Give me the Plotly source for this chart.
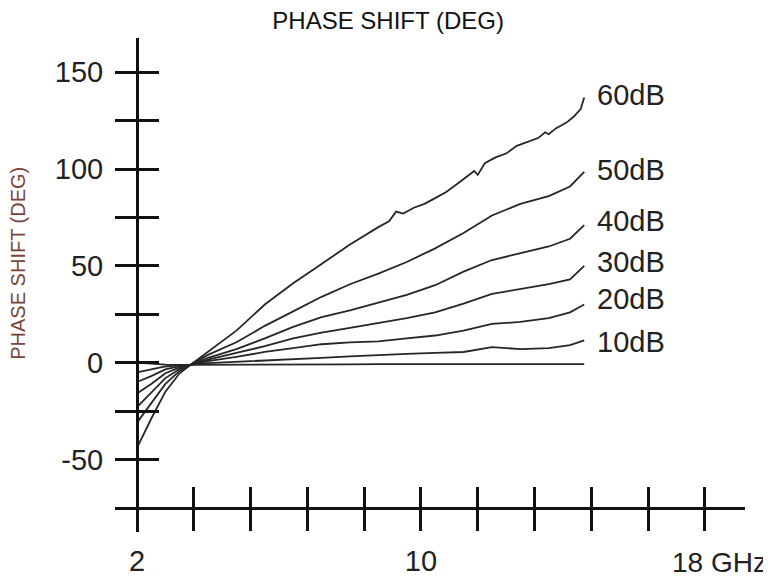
import plotly.graph_objects as go

# ---- data ----
freq = [2, 2.4, 2.8, 3.2, 3.5, 4.0, 4.8, 5.6, 6.4, 7.2, 8.0, 8.8, 9.6, 10.4, 11.2, 12.0, 12.8, 13.6, 14.2, 14.6]

phase_0db = [0, -0.6, -1.0, -1.2, -1.2, -1.1, -1.0, -1.0, -0.9, -0.9, -0.9, -0.8, -0.8, -0.8, -0.8, -0.8, -0.8, -0.8, -0.8, -0.8]
phase_10db = [-5, -3.5, -2, -1.3, -1.2, -0.3, 0.5, 1.2, 1.8, 2.5, 3.2, 4, 4.5, 5, 5.5, 8, 7, 7.5, 9, 11.5]
phase_20db = [-10, -7, -3.5, -1.8, -1.2, 0.8, 3, 5.5, 7.5, 9.5, 10.5, 11, 12.5, 14, 16.5, 20, 21, 23, 26, 30]
phase_30db = [-16, -11, -5.5, -2.5, -1.2, 1.5, 5, 8.5, 12.5, 15.5, 18, 20.5, 23, 26, 30.5, 35.5, 38, 40.5, 43, 50]
phase_40db = [-23, -15.5, -8, -3.3, -1.2, 2.5, 7, 12.5, 18.5, 23.5, 27, 31, 35, 40, 47, 53, 56.5, 60, 64, 71]
phase_50db = [-31, -21, -11, -4.3, -1.2, 4, 10.5, 19, 26.5, 34, 40.5, 46, 52, 59, 67, 76, 82, 86, 91, 98.6]

freq_60 = [2, 2.4, 2.8, 3.2, 3.5, 4.0, 4.8, 5.6, 6.4, 7.2, 8.0, 8.8, 9.1, 9.3, 9.5, 9.8, 10.1, 10.4,
           10.7, 11.0, 11.3, 11.5, 11.6, 11.8, 12.1, 12.4, 12.7, 13.0, 13.3, 13.5, 13.6, 13.8, 14.1,
           14.3, 14.5, 14.6]
phase_60db = [-44, -29, -15, -5.5, -1.2, 5.5, 16.5, 30, 41, 51, 61, 70, 73, 78, 77, 80, 82, 85,
              88, 92, 96, 99, 97, 103, 106, 108, 112, 114, 116, 119, 118, 121, 124, 127, 131, 137]

curve_names = ["0dB", "10dB", "20dB", "30dB", "40dB", "50dB", "60dB"]
label_names = ["10dB", "20dB", "30dB", "40dB", "50dB", "60dB"]
label_y = [10.9, 33, 52, 73.2, 99.5, 138]

x_tick_vals = [2, 3.6, 5.2, 6.8, 8.4, 10, 11.6, 13.2, 14.8, 16.4, 18]
x_tick_text = ["2", "", "", "", "", "10", "", "", "", "", ""]
y_tick_vals = [-50, -25, 0, 25, 50, 75, 100, 125, 150]
y_tick_text = ["-50", "", "0", "", "50", "", "100", "", "150"]

x_range = [1.38, 19.13]
y_range = [-87.5, 167.7]
x_cross = -75   # y value where the frequency axis is drawn
y_cross = 2     # x value where the phase axis is drawn

FONT = "Liberation Sans, Arial, sans-serif"
BIG = 29

fig = go.Figure()
series = [(freq, phase_0db), (freq, phase_10db), (freq, phase_20db), (freq, phase_30db),
          (freq, phase_40db), (freq, phase_50db), (freq_60, phase_60db)]
for name, (xs, ys) in zip(curve_names, series):
    fig.add_trace(go.Scatter(x=xs, y=ys, mode="lines", name=name,
                             line=dict(color="#262626", width=1.8), showlegend=False))

for name, yv in zip(label_names, label_y):
    fig.add_annotation(x=14.9, y=yv, text=name, showarrow=False, xanchor="left", yanchor="middle",
                       font=dict(family=FONT, size=BIG, color="#222"))

fig.add_annotation(x=18, y=x_cross, text="18 GHz", showarrow=False, xanchor="left", yanchor="middle",
                   xshift=-35, yshift=-55, font=dict(family=FONT, size=28, color="#222"))

xpos = (x_cross - y_range[0]) / (y_range[1] - y_range[0])
ypos = (y_cross - x_range[0]) / (x_range[1] - x_range[0])

common_x = dict(range=x_range, showgrid=False, zeroline=False, tickmode="array",
                tickvals=x_tick_vals, anchor="free", position=xpos, tickwidth=3, tickcolor="#111",
                ticklen=21, automargin=False)
common_y = dict(range=y_range, showgrid=False, zeroline=False, tickmode="array",
                tickvals=y_tick_vals, anchor="free", position=ypos, tickwidth=3, tickcolor="#111",
                ticklen=21, automargin=False)

# the page body adds an 8 px offset, so the margins are shifted to compensate
fig.update_layout(
    width=771, height=577,
    margin=dict(l=107, r=34, t=30, b=53, autoexpand=False),
    paper_bgcolor="white", plot_bgcolor="white",
    title=dict(text="PHASE SHIFT (DEG)", x=0.493, xanchor="center", xref="container",
               y=0.979, yanchor="middle", yref="container", automargin=False,
               font=dict(family=FONT, size=24, color="#111")),
    xaxis=dict(**common_x, ticks="outside", ticktext=x_tick_text, showline=True, linewidth=3,
               linecolor="#111", ticklabelstandoff=5,
               tickfont=dict(family=FONT, size=BIG, color="#222")),
    xaxis2=dict(**common_x, overlaying="x", ticks="inside", showticklabels=False, showline=False),
    yaxis=dict(**common_y, ticks="outside", ticktext=y_tick_text, showline=True, linewidth=3,
               linecolor="#111", ticklabelstandoff=6,
               tickfont=dict(family=FONT, size=BIG, color="#222")),
    yaxis2=dict(**common_y, overlaying="y", ticks="inside", showticklabels=False, showline=False),
)

fig.add_annotation(xref="paper", yref="paper", x=-0.154, y=0.545, text="PHASE SHIFT (DEG)",
                   textangle=-90, showarrow=False, xanchor="center", yanchor="middle",
                   font=dict(family=FONT, size=20, color="#7a4438"))

# dummy trace so the overlay axes render
fig.add_trace(go.Scatter(x=[None], y=[None], xaxis="x2", yaxis="y2", showlegend=False, hoverinfo="skip"))

fig.write_html("out.html")
